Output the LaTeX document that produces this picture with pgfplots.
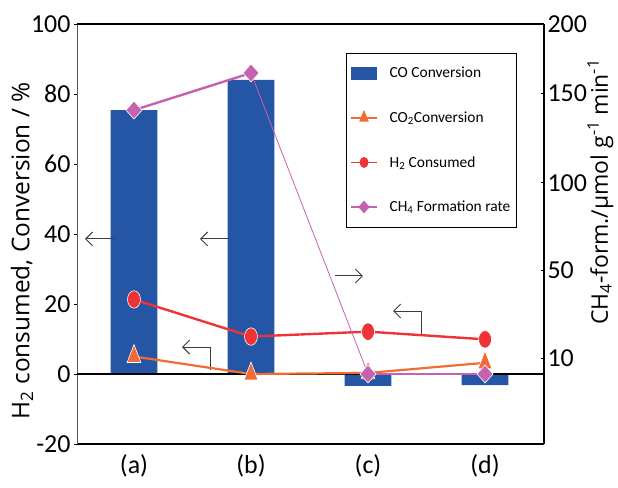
\documentclass[border=0pt]{standalone}
\usepackage{pgfplots}
\pgfplotsset{compat=1.18}
\usepackage{fontspec}
\setmainfont{Carlito}
\newfontfamily\rlabfont{Open Sans}
\usetikzlibrary{arrows.meta}
\definecolor{barblue}{RGB}{36,86,165}
\definecolor{h2red}{RGB}{238,50,56}
\definecolor{co2orange}{RGB}{242,106,54}
\definecolor{ch4pink}{RGB}{196,98,176}
\definecolor{arrowgray}{RGB}{60,60,60}
\begin{document}
\begin{tikzpicture}
\begin{axis}[
  scale only axis, width=467bp, height=420bp,
  xmin=-0.487, xmax=3.504, ymin=-20, ymax=100,
  axis x line*=bottom, axis y line*=left,
  x axis line style={line width=2pt, -},
  y axis line style={line width=0.7pt, draw=gray!70!black, -},
  xtick={0,1,2,3}, xticklabels={(a),(b),(c),(d)},
  x tick style={draw=none},
  ytick={-20,0,20,40,60,80,100},
  y tick style={black, line width=0.8pt},
  major tick length=3pt, tick align=outside,
  tick label style={font=\fontsize{26}{26}\selectfont},
  xticklabel style={yshift=-4pt},
  /pgf/number format/assume math mode=true,
  ylabel={\rlabfont H\textsubscript{2} consumed, Conversion / \%},
  ylabel style={font=\fontsize{24.5}{24.5}\selectfont, at={(axis description cs:-0.118,0.46)}, anchor=center},
  clip=false,
]
\addplot[ybar, bar width=0.4, fill=barblue, draw=none, forget plot] coordinates {(0,75.4) (1,84) (2,-3.4) (3,-3.2)};
\draw[line width=2pt] (axis cs:-0.487,0) -- (axis cs:3.504,0);
% arrows
\draw[arrowgray, line width=1pt, -{Straight Barb[length=7pt,width=14pt]}] (axis cs:-0.162,38.6) -- (axis cs:-0.419,38.6);
\draw[arrowgray, line width=1pt, -{Straight Barb[length=7pt,width=14pt]}] (axis cs:0.803,38.6) -- (axis cs:0.564,38.6);
\draw[arrowgray, line width=1pt, -{Straight Barb[length=7pt,width=14pt]}] (axis cs:1.718,28) -- (axis cs:1.957,28);
\draw[arrowgray, line width=1pt, -{Straight Barb[length=7pt,width=14pt]}] (axis cs:2.453,11.1) -- (axis cs:2.453,18) -- (axis cs:2.214,18);
\draw[arrowgray, line width=1pt, -{Straight Barb[length=7pt,width=14pt]}] (axis cs:0.65,1.1) -- (axis cs:0.65,7.7) -- (axis cs:0.41,7.7);
% CO2 conversion
\addplot[co2orange, line width=2.2pt, mark=triangle*, mark size=8pt, mark options={yscale=1.5, fill=co2orange, draw=white, line width=0.6pt}, forget plot]
  coordinates {(0,5) (1,0) (2,0.3) (3,3.2)};
% H2 consumed
\addplot[h2red, line width=2.4pt, mark=*, mark size=6.5pt, mark options={yscale=1.35, fill=h2red, draw=white, line width=0.6pt}, forget plot]
  coordinates {(0,21.3) (1,10.7) (2,12.1) (3,9.9)};
\end{axis}
\begin{axis}[
  scale only axis, width=467bp, height=420bp,
  xmin=-0.487, xmax=3.504, ymin=-20, ymax=100,
  axis x line=none, axis y line*=right,
  y axis line style={line width=1.3pt, -},
  ytick={4.6,29.7,54.6,80.3,100}, yticklabels={10,50,100,150,200},
  y tick style={black, line width=0.8pt},
  major tick length=3pt, tick align=inside,
  tick label style={font=\fontsize{26}{26}\selectfont},
  ylabel={\rlabfont CH\textsubscript{4}-form./µmol g\textsuperscript{-1} min\textsuperscript{-1}},
  ylabel style={font=\fontsize{23}{23}\selectfont, at={(axis description cs:1.121,0.6)}, anchor=center, rotate=0},
  clip=false,
  legend style={at={(axis description cs:0.576,0.931)}, anchor=north west, draw=black, line width=0.8pt, fill=white,
    font=\fontsize{15.5}{15.5}\selectfont, row sep=28.5pt, inner xsep=4pt, inner ysep=12pt,
    cells={anchor=west}, /tikz/every odd column/.append style={column sep=10pt}},
  legend cell align=left,
]
\coordinate (bl) at (rel axis cs:0,0);
\coordinate (tr) at (rel axis cs:1,1);
\draw[line width=2.2pt] (rel axis cs:0,1) -- (rel axis cs:1,1);
% CH4 formation rate (positions on the right-hand scale)
\addplot[ch4pink, line width=0.8pt, forget plot] coordinates {(0,75.4) (1,86) (2,0) (3,0)};
\addplot[ch4pink, line width=2.4pt, mark=diamond*, mark size=9pt, mark options={xscale=1.2, fill=ch4pink, draw=white, line width=0.6pt}, forget plot]
  coordinates {(0,75.4) (1,86)};
\addplot[ch4pink, line width=2.4pt, mark=diamond*, mark size=9pt, mark options={xscale=1.2, fill=ch4pink, draw=white, line width=0.6pt}, forget plot]
  coordinates {(2,0) (3,0)};
\addlegendimage{legend image code/.code={\fill[barblue] (0cm,-6bp) rectangle (0.9cm,6bp);}}
\addlegendentry{CO Conversion}
\addlegendimage{co2orange, line width=1.8pt, mark=triangle*, mark size=4pt, mark options={yscale=1.4, fill=co2orange, draw=co2orange},
  legend image code/.code={\draw[mark repeat=2,mark phase=2] plot coordinates {(0cm,0cm) (0.45cm,0cm) (0.9cm,0cm)};}}
\addlegendentry{CO\textsubscript{2}Conversion}
\addlegendimage{h2red, line width=1.8pt, mark=*, mark size=3.5pt, mark options={yscale=1.3, fill=h2red, draw=h2red},
  legend image code/.code={\draw[mark repeat=2,mark phase=2] plot coordinates {(0cm,0cm) (0.45cm,0cm) (0.9cm,0cm)};}}
\addlegendentry{H\textsubscript{2} Consumed}
\addlegendimage{ch4pink, line width=1.8pt, mark=diamond*, mark size=5pt, mark options={xscale=1.2, fill=ch4pink, draw=ch4pink},
  legend image code/.code={\draw[mark repeat=2,mark phase=2] plot coordinates {(0cm,0cm) (0.45cm,0cm) (0.9cm,0cm)};}}
\addlegendentry{CH\textsubscript{4} Formation rate}
\end{axis}
\path (bl) ++(-77bp,-44bp) coordinate (A);
\path (tr) ++(74bp,24bp) coordinate (B);
\pgfresetboundingbox
\path[use as bounding box] (A) rectangle (B);
\end{tikzpicture}
\end{document}
